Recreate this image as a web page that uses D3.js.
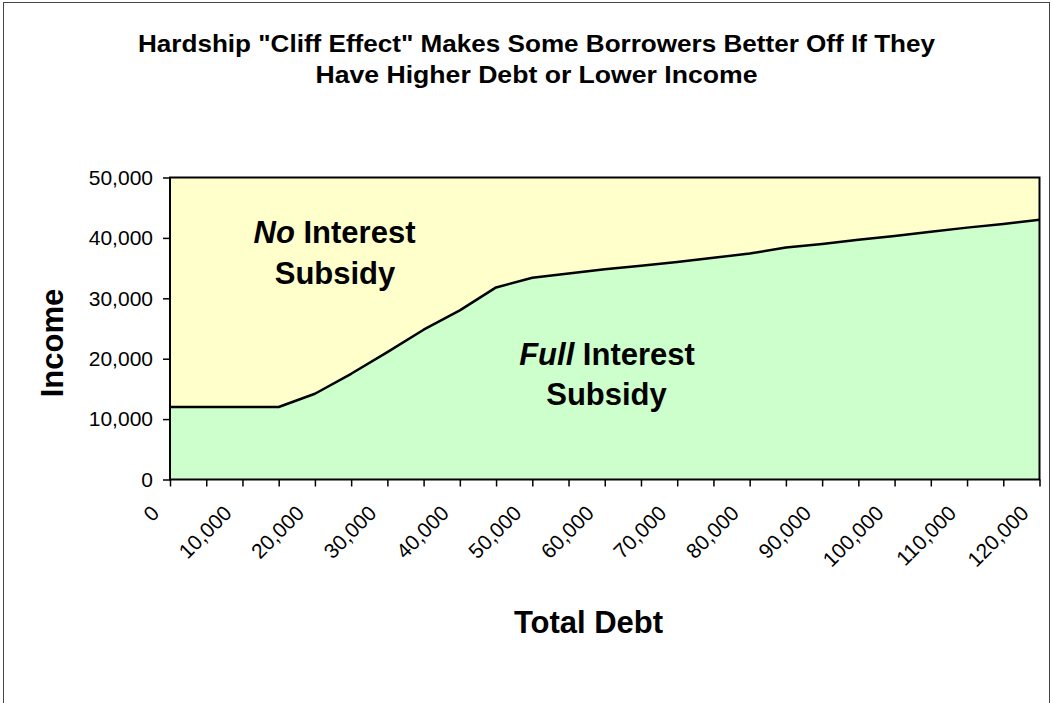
<!DOCTYPE html>
<html>
<head>
<meta charset="utf-8">
<script src="https://cdn.jsdelivr.net/npm/d3@7"></script>
<style>
	body { margin: 0; background: #fff; }
	text { font-family: "Liberation Sans", Arial, sans-serif; }
</style>
</head>
<body>
<div id="chart"></div>
<script>
var width = 1053;
var height = 703;

// total debt categories (every 5,000)
var debt = [0, 5000, 10000, 15000, 20000, 25000, 30000, 35000, 40000, 45000,
	50000, 55000, 60000, 65000, 70000, 75000, 80000, 85000, 90000, 95000,
	100000, 105000, 110000, 115000, 120000];

// income cut-off for the hardship subsidy at each debt level
var income = [12000, 12000, 12000, 12000, 14200, 17500, 21100, 24800, 28000, 31800,
	33400, 34100, 34800, 35400, 36000, 36700, 37400, 38400, 39000, 39700,
	40300, 41000, 41700, 42300, 43000];

var yTicks = [0, 10000, 20000, 30000, 40000, 50000];
var xLabels = [0, 10000, 20000, 30000, 40000, 50000, 60000, 70000, 80000, 90000, 100000, 110000, 120000];

var titleLines = ['Hardship "Cliff Effect" Makes Some Borrowers Better Off If They', 'Have Higher Debt or Lower Income'];

window.onload = start;

function start() {
	var svg = d3.select("#chart")
		.append("svg")
		.attr("width", width)
		.attr("height", height);

	// outer frame
	svg.append("rect")
		.attr("x", 3.5)
		.attr("y", 2.5)
		.attr("width", 1046)
		.attr("height", 760)
		.attr("fill", "#fff")
		.attr("stroke", "#444")
		.attr("stroke-width", 1);

	var left = 170, right = 1039.5, top = 177.5, bottom = 479.5;

	var xScale = d3.scaleLinear().domain([0, 120000]).range([left, right]);
	var yScale = d3.scaleLinear().domain([0, 50000]).range([bottom, top]);

	var fmt = d3.format(",");

	// yellow background = no subsidy
	svg.append("rect")
		.attr("x", left)
		.attr("y", top)
		.attr("width", right - left)
		.attr("height", bottom - top)
		.attr("fill", "#FFFFCC");

	var pts = debt.map(function(d, i) { return [d, income[i]]; });

	// green area = full subsidy
	var area = d3.area()
		.x(function(d) { return xScale(d[0]); })
		.y0(yScale(0))
		.y1(function(d) { return yScale(d[1]); });

	svg.append("path")
		.datum(pts)
		.attr("d", area)
		.attr("fill", "#CCFFCC");

	var line = d3.line()
		.x(function(d) { return xScale(d[0]); })
		.y(function(d) { return yScale(d[1]); });

	svg.append("path")
		.datum(pts)
		.attr("d", line)
		.attr("fill", "none")
		.attr("stroke", "#000")
		.attr("stroke-width", 2.5)
		.attr("stroke-linejoin", "round");

	// plot border
	svg.append("rect")
		.attr("x", left)
		.attr("y", top)
		.attr("width", right - left)
		.attr("height", bottom - top)
		.attr("fill", "none")
		.attr("stroke", "#000")
		.attr("stroke-width", 2);

	// y axis
	var yAxis = d3.axisLeft(yScale)
		.tickValues(yTicks)
		.tickSize(7)
		.tickPadding(10)
		.tickFormat(fmt);

	var gy = svg.append("g")
		.attr("transform", "translate(" + left + ",0)")
		.call(yAxis);
	gy.select(".domain").remove();
	gy.selectAll("line").attr("stroke", "#000").attr("stroke-width", 1.5);
	gy.selectAll("text")
		.attr("font-size", 21)
		.attr("fill", "#000")
		.style("font-family", "Liberation Sans, Arial, sans-serif");

	// x axis
	var xAxis = d3.axisBottom(xScale)
		.tickValues(debt)
		.tickSize(7)
		.tickFormat(function(d) { return xLabels.indexOf(d) >= 0 ? fmt(d) : ""; });

	var gx = svg.append("g")
		.attr("transform", "translate(0," + bottom + ")")
		.call(xAxis);
	gx.select(".domain").remove();
	gx.selectAll("line").attr("stroke", "#000").attr("stroke-width", 1.5);
	gx.selectAll("text")
		.attr("font-size", 21)
		.attr("fill", "#000")
		.style("font-family", "Liberation Sans, Arial, sans-serif")
		.style("text-anchor", "end")
		.attr("x", 0)
		.attr("y", 0)
		.attr("dy", 0)
		.attr("transform", "translate(-10,35) rotate(-45)");

	// title
	svg.selectAll(".title")
		.data(titleLines)
		.enter()
		.append("text")
		.attr("class", "title")
		.attr("x", 536.5)
		.attr("y", function(d, i) { return 52 + i * 31; })
		.attr("text-anchor", "middle")
		.attr("font-size", 24)
		.attr("font-weight", "bold")
		.attr("textLength", function(d, i) { return i == 0 ? 797 : 442; })
		.attr("lengthAdjust", "spacingAndGlyphs")
		.text(function(d) { return d; });

	// axis titles
	svg.append("text")
		.attr("x", 588.5)
		.attr("y", 633)
		.attr("text-anchor", "middle")
		.attr("font-size", 31)
		.attr("font-weight", "bold")
		.text("Total Debt");

	svg.append("text")
		.attr("transform", "translate(63,343) rotate(-90)")
		.attr("text-anchor", "middle")
		.attr("font-size", 31)
		.attr("font-weight", "bold")
		.text("Income");

	// region labels
	var noLab = svg.append("text")
		.attr("x", 334.5)
		.attr("y", 243)
		.attr("text-anchor", "middle")
		.attr("font-size", 31)
		.attr("font-weight", "bold");
	noLab.append("tspan").attr("font-style", "italic").text("No");
	noLab.append("tspan").text(" Interest");
	svg.append("text")
		.attr("x", 335)
		.attr("y", 284)
		.attr("text-anchor", "middle")
		.attr("font-size", 31)
		.attr("font-weight", "bold")
		.text("Subsidy");

	var fullLab = svg.append("text")
		.attr("x", 607)
		.attr("y", 365)
		.attr("text-anchor", "middle")
		.attr("font-size", 31)
		.attr("font-weight", "bold");
	fullLab.append("tspan").attr("font-style", "italic").text("Full");
	fullLab.append("tspan").text(" Interest");
	svg.append("text")
		.attr("x", 606.5)
		.attr("y", 405)
		.attr("text-anchor", "middle")
		.attr("font-size", 31)
		.attr("font-weight", "bold")
		.text("Subsidy");
}
</script>
</body>
</html>
